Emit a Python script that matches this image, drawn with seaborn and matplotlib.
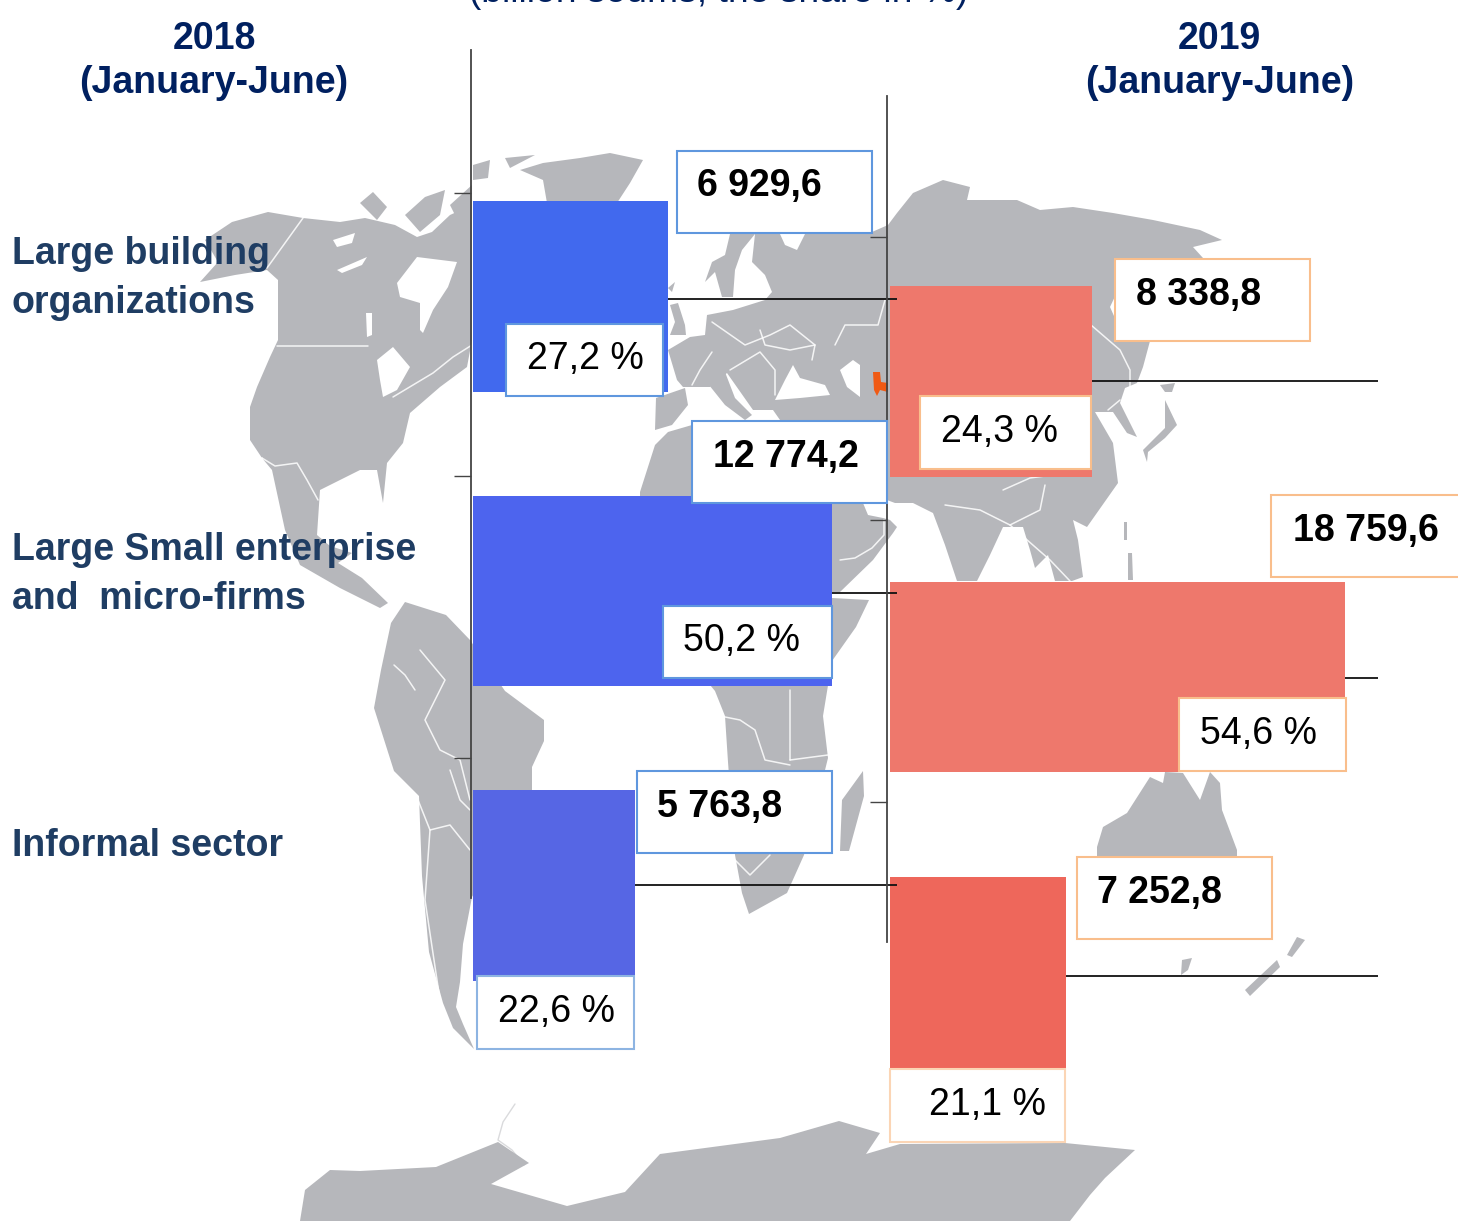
import matplotlib
matplotlib.use("Agg")
import matplotlib.pyplot as plt
from matplotlib.patches import Polygon, Rectangle
import pandas as pd
import seaborn as sns

# ---------- data ----------
categories = ["Large building organizations", "Large Small enterprise and micro-firms", "Informal sector"]
values_2018 = [6929.6, 12774.2, 5763.8]
values_2019 = [8338.8, 18759.6, 7252.8]
shares_2018 = ["27,2 %", "50,2 %", "22,6 %"]
shares_2019 = ["24,3 %", "54,6 %", "21,1 %"]
value_labels_2018 = ["6 929,6", "12 774,2", "5 763,8"]
value_labels_2019 = ["8 338,8", "18 759,6", "7 252,8"]

# ---------- style / layout ----------
W, H = 1458, 1221
sns.set_theme(style="white")
plt.rcParams["font.family"] = ["Liberation Sans", "DejaVu Sans"]
FS = 27.0
NAVY, SLATE = "#002060", "#1F3D63"
BLUES = ["#4169EE", "#4D64EE", "#5666E4"]
REDS = ["#EE786C", "#EE786C", "#EE675B"]
BLUE_EDGE, BLUE_EDGE_L = "#5F97DE", "#8DB4E2"
ORANGE_EDGE, ORANGE_EDGE_L = "#F9BE8C", "#FBD5B5"
LAND = "#B6B7BB"

fig = plt.figure(figsize=(W / 100, H / 100), dpi=100, facecolor="white")


def axes_px(x0, y0, x1, y1, z):
    return fig.add_axes([x0 / W, 1 - y1 / H, (x1 - x0) / W, (y1 - y0) / H], zorder=z)


# ---------- background map (schematic outline, pixel space) ----------
bg = axes_px(0, 0, W, H, 0)
bg.set_xlim(0, W); bg.set_ylim(H, 0); bg.axis("off")

land = [
    # North America
    [(200, 282), (218, 262), (205, 240), (232, 222), (268, 212), (303, 218), (340, 222), (365, 218), (395, 225),
     (417, 237), (432, 232), (450, 215), (472, 205), (472, 340), (467, 367), (440, 387), (410, 413), (403, 443),
     (387, 463), (383, 503), (377, 470), (360, 470), (320, 490), (317, 535), (330, 546), (352, 553), (338, 563),
     (362, 578), (388, 603), (380, 608), (340, 588), (300, 565), (285, 530), (272, 470), (262, 458), (250, 440),
     (250, 407), (257, 387), (270, 357), (278, 340), (278, 280), (267, 270), (235, 275)],
    # Arctic islands
    [(360, 203), (373, 192), (387, 207), (377, 220)],
    [(405, 215), (425, 197), (445, 190), (440, 215), (420, 232)],
    [(450, 205), (472, 185), (472, 205), (460, 225)],
    [(473, 165), (490, 160), (488, 178), (473, 180)],
    [(505, 158), (535, 155), (510, 168)],
    # Greenland
    [(520, 170), (543, 163), (580, 158), (610, 153), (643, 160), (630, 183), (617, 203), (547, 203), (543, 180)],
    # Iceland / UK
    [(668, 288), (675, 282), (672, 292)],
    [(670, 305), (678, 303), (685, 325), (686, 335), (670, 335), (675, 322)],
    # Scandinavia
    [(705, 282), (712, 262), (725, 255), (730, 234), (755, 234), (742, 250), (735, 270), (733, 297), (722, 297), (715, 272)],
    # Iberia
    [(656, 398), (685, 388), (688, 405), (672, 425), (655, 430)],
    # Italy, Sicily
    [(705, 380), (725, 372), (735, 398), (752, 415), (745, 420), (725, 405)],
    # Eurasia
    [(668, 350), (690, 337), (705, 335), (707, 315), (733, 310), (765, 300), (772, 292), (765, 275), (752, 262),
     (755, 234), (872, 232), (888, 225), (897, 213), (913, 193), (943, 180), (970, 187), (967, 200), (1017, 200),
     (1040, 210), (1073, 207), (1113, 213), (1153, 220), (1200, 230), (1222, 240), (1193, 247), (1203, 258),
     (1160, 262), (1118, 290), (1110, 307), (1118, 325), (1150, 341), (1143, 367), (1137, 383), (1125, 388),
     (1120, 403), (1137, 437), (1127, 433), (1113, 412), (1095, 412), (1113, 443), (1118, 483), (1087, 527),
     (1073, 520), (1078, 540), (1083, 577), (1072, 581), (1055, 581), (1048, 555), (1035, 568), (1030, 550),
     (1023, 527), (1003, 527), (990, 555), (977, 581), (957, 581), (945, 545), (933, 513), (913, 503), (895, 503),
     (860, 490), (880, 421), (780, 420), (773, 410), (753, 410), (727, 373), (710, 387), (683, 387), (677, 380)],
    # Arabia
    [(832, 503), (863, 503), (868, 515), (883, 518), (890, 520), (897, 527), (893, 533), (873, 560), (840, 592), (832, 592)],
    # Africa
    [(640, 492), (655, 445), (668, 432), (692, 425), (832, 425), (832, 598), (869, 600),
     (856, 627), (832, 661), (823, 716), (828, 758), (804, 855), (787, 893), (749, 914), (742, 893), (735, 855),
     (728, 762), (725, 716), (715, 691), (640, 600)],
    # Madagascar
    [(863, 771), (842, 800), (840, 851), (849, 851), (864, 796)],
    # South America
    [(374, 708), (381, 670), (391, 623), (405, 602), (446, 615), (470, 640), (505, 691), (544, 720), (544, 741),
     (532, 767), (532, 791), (500, 850), (472, 897), (463, 944), (460, 982), (456, 1007), (463, 1024), (474, 1049),
     (453, 1028), (443, 1003), (429, 952), (422, 876), (419, 796), (394, 771)],
    # Australia, Tasmania, New Zealand
    [(1097, 847), (1103, 827), (1127, 813), (1150, 777), (1163, 783), (1165, 772), (1183, 773), (1200, 800),
     (1210, 772), (1220, 783), (1222, 810), (1237, 850), (1237, 860), (1097, 860)],
    [(1182, 960), (1192, 958), (1188, 970), (1181, 975)],
    [(1245, 990), (1277, 960), (1280, 967), (1250, 996)],
    [(1287, 955), (1297, 937), (1305, 940), (1292, 957)],
    # Japan, Sakhalin, Taiwan, Philippines
    [(1165, 400), (1177, 425), (1165, 438), (1148, 452), (1147, 462), (1143, 450), (1165, 428)],
    [(1160, 385), (1175, 383), (1172, 392), (1165, 392)],
    [(1124, 522), (1127, 522), (1127, 540), (1124, 540)],
    [(1128, 553), (1132, 553), (1133, 580), (1128, 580)],
    # Antarctica
    [(305, 1190), (330, 1170), (360, 1171), (436, 1167), (498, 1142), (529, 1163), (491, 1184), (567, 1206),
     (625, 1192), (660, 1154), (780, 1138), (839, 1121), (880, 1133), (866, 1154), (900, 1144), (1065, 1143),
     (1135, 1150), (1105, 1178), (1090, 1195), (1070, 1221), (300, 1221)],
]
for p in land:
    bg.add_patch(Polygon(p, closed=True, fc=LAND, ec="none"))

seas = [
    [(397, 283), (417, 257), (457, 262), (448, 287), (433, 310), (423, 333), (420, 330), (420, 303), (400, 297)],  # Hudson
    [(377, 360), (393, 347), (410, 367), (397, 390), (383, 397), (380, 380)],  # Great Lakes
    [(333, 240), (355, 233), (352, 243), (337, 247)],
    [(337, 270), (367, 257), (362, 265), (342, 273)],
    [(366, 313), (372, 313), (372, 335), (367, 337)],
    [(793, 365), (800, 378), (825, 385), (830, 395), (800, 398), (775, 400), (785, 380)],  # Black Sea
    [(840, 370), (853, 360), (860, 365), (860, 397), (847, 387)],  # Caspian
    [(780, 234), (805, 234), (797, 250), (785, 245)],  # White Sea
]
for p in seas:
    bg.add_patch(Polygon(p, closed=True, fc="white", ec="none"))
bg.add_patch(Polygon([(873, 372), (880, 372), (881, 382), (888, 383), (888, 392), (880, 390), (877, 396), (874, 390)],
                     closed=True, fc="#F05A14", ec="none"))

borders = [
    [(303, 218), (267, 268)], [(277, 346), (368, 346)], [(393, 397), (433, 373), (453, 357), (472, 345)],
    [(262, 458), (275, 466), (297, 463), (307, 480), (318, 500)], [(262, 458), (270, 500)],
    [(692, 385), (700, 370), (712, 352)], [(712, 322), (745, 345), (770, 335), (790, 325), (815, 345), (812, 360)],
    [(760, 330), (765, 345), (790, 350), (815, 345)], [(730, 370), (760, 352), (775, 370), (775, 395)],
    [(835, 345), (845, 325), (878, 325), (885, 300)],
    [(420, 650), (445, 680), (425, 720), (440, 750), (460, 760), (470, 800)],
    [(394, 665), (405, 675), (415, 690)], [(418, 800), (430, 830), (425, 900), (440, 1000)],
    [(430, 830), (450, 825), (470, 850)], [(450, 770), (460, 800), (470, 810)],
    [(715, 715), (740, 720), (755, 730), (765, 760), (790, 765)], [(790, 690), (790, 760)],
    [(790, 760), (828, 755)], [(735, 860), (750, 875), (770, 855)],
    [(945, 505), (980, 510), (1010, 525), (1050, 560), (1070, 581)],
    [(1010, 525), (1040, 510), (1045, 485)], [(1003, 490), (1030, 478), (1090, 470)],
    [(1091, 325), (1120, 350), (1130, 370), (1130, 390)], [(840, 560), (855, 558), (872, 548), (884, 535), (884, 520)],
    [(1120, 400), (1108, 410)],
]
for b in borders:
    bg.plot(*zip(*b), color="white", lw=1.1, alpha=0.85, solid_capstyle="round")
bg.plot([515, 503, 498, 512, 524], [1104, 1122, 1140, 1150, 1165], color=LAND, lw=1.0, alpha=0.5)

# ---------- bars ----------
LEFT_X0, LEFT_X1, LEFT_MAX = 473, 897, 15089
RIGHT_X0, RIGHT_X1, RIGHT_MAX = 890, 1378, 20124
BAR_WIDTH = 0.6455


def bar_panel(x0, x1, y0, y1, xmax, vals, palette, leader_shift, z):
    ax = axes_px(x0, y0, x1, y1, z)
    df = pd.DataFrame({"category": categories, "value": vals})
    sns.barplot(data=df, x="value", y="category", hue="category", palette=palette, width=BAR_WIDTH,
                orient="h", dodge=False, legend=False, saturation=1, linewidth=0, ax=ax)
    ax.set_xlim(0, xmax)
    ax.set_ylim(2.5, -0.5)
    ax.axis("off")
    ax.patch.set_alpha(0)
    rows = [i + s for i, s in enumerate(leader_shift)]
    ax.hlines(rows, vals, xmax, color="#111111", lw=1.3)
    return ax


bar_panel(RIGHT_X0, RIGHT_X1, 233.4, 1120.6, RIGHT_MAX, values_2019, REDS, [0, 0.004, 0.011], 2)
bar_panel(LEFT_X0, LEFT_X1, 149.25, 1032.75, LEFT_MAX, values_2018, BLUES, [0.009, 0.007, -0.002], 3)


# ---------- axis spines with ticks ----------
def spine_panel(x, y0, y1, ticks):
    ax = axes_px(x, y0, x + 2, y1, 3)
    ax.patch.set_alpha(0)
    ax.set_ylim(y1, y0)
    ax.set_yticks(ticks, [""] * len(ticks))
    ax.set_xticks([])
    for side in ("top", "right", "bottom"):
        ax.spines[side].set_visible(False)
    ax.spines["left"].set_color("#444444")
    ax.spines["left"].set_linewidth(1.3)
    ax.tick_params(axis="y", left=True, length=12.5, width=1.0, color="#444444")


spine_panel(471, 50, 898, [193, 476, 758])
spine_panel(887, 96, 942, [237, 520, 802])

# ---------- overlay: label boxes and text ----------
ov = axes_px(0, 0, W, H, 4)
ov.set_xlim(0, W); ov.set_ylim(H, 0); ov.axis("off"); ov.patch.set_alpha(0)


def label_box(box, text_xy, text, edge, bold):
    x0, y0, x1, y1 = box
    ov.add_patch(Rectangle((x0, y0), x1 - x0, y1 - y0, fc="white", ec=edge, lw=1.5, clip_on=False))
    ov.text(*text_xy, text, fontsize=FS, color="black", va="center", ha="left",
            fontweight="bold" if bold else "normal")


val_boxes_18 = [((677, 151, 872, 233), (697, 186)), ((692, 421, 887, 503), (713, 457)), ((637, 771, 832, 853), (657, 807))]
val_boxes_19 = [((1115, 259, 1310, 341), (1136, 295)), ((1271, 495, 1470, 577), (1293, 531)), ((1077, 857, 1272, 939), (1097, 893))]
pct_boxes_18 = [((506, 324, 663, 396), (527, 359)), ((663, 606, 832, 678), (683, 641)), ((477, 976, 634, 1049), (498, 1012))]
pct_boxes_19 = [((920, 396, 1091, 469), (941, 432)), ((1179, 698, 1346, 771), (1200, 734)), ((890, 1069, 1065, 1142), (929, 1105))]

for i in range(3):
    label_box(*val_boxes_18[i], value_labels_2018[i], BLUE_EDGE, True)
    label_box(*val_boxes_19[i], value_labels_2019[i], ORANGE_EDGE, True)
    label_box(*pct_boxes_18[i], shares_2018[i], BLUE_EDGE_L if i == 2 else BLUE_EDGE, False)
    label_box(*pct_boxes_19[i], shares_2019[i], ORANGE_EDGE_L if i == 2 else ORANGE_EDGE, False)

for x, year in [(214, "2018"), (1219.5, "2019")]:
    ov.text(x, 39, year, fontsize=FS, fontweight="bold", color=NAVY, ha="center", va="center")
    ov.text(x, 83, "(January-June)", fontsize=FS, fontweight="bold", color=NAVY, ha="center", va="center")

for y, txt in [(254, "Large building"), (303, "organizations"), (550, "Large Small enterprise"),
               (599, "and  micro-firms"), (846, "Informal sector")]:
    ov.text(12, y, txt, fontsize=FS, fontweight="bold", color=SLATE, ha="left", va="center")

# The reference's subtitle is cropped by the top edge of the picture.
ov.text(719, 1.5, "(billion soums, the share in %)", fontsize=26.8, color=NAVY, ha="center", va="baseline",
        clip_on=False)

fig.savefig("out.png", dpi=100, facecolor="white")
